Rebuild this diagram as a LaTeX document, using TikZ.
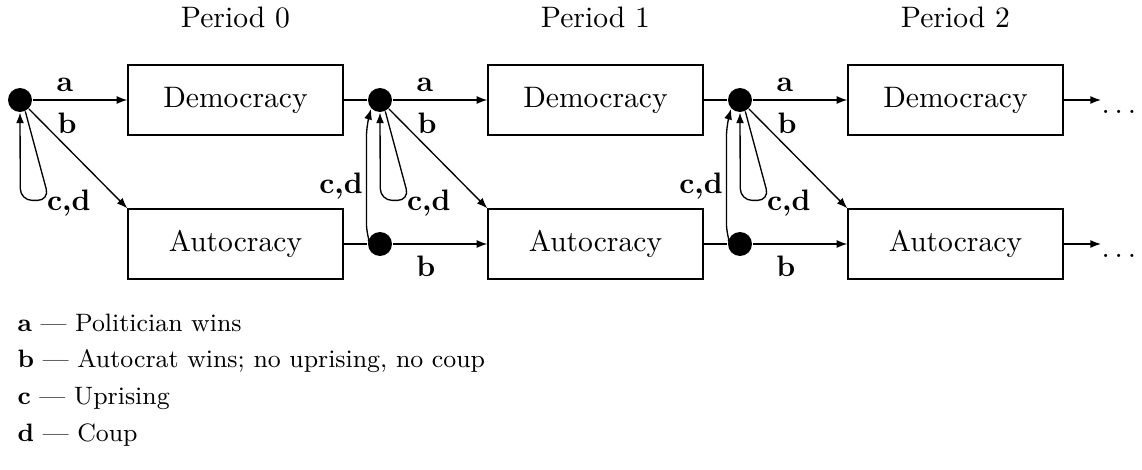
\documentclass[tikz,border=0pt]{standalone}
\usepackage{tikz}
\usetikzlibrary{arrows.meta}
\tikzset{
	state/.style={draw, line width=0.5pt, minimum width=72.6pt, minimum height=23.6pt, inner sep=0pt},
	dot/.style={circle, fill=black, inner sep=0pt, minimum size=8.1pt},
	link/.style={line width=0.45pt},
	arr/.style={line width=0.45pt, -{Latex[length=3.6pt,width=2.7pt]}},
	lbl/.style={font=\bfseries, inner sep=2.5pt},
	legend/.style={anchor=base west, inner sep=0pt, font=\fontsize{8.5}{10.2}\selectfont},
}

\begin{document}
\begin{tikzpicture}[x=0.3378pt, y=-0.3378pt]
			%%%%% START %%%%%
			\useasboundingbox (0,0) rectangle (1142,470);
			
			\node[anchor=base] (per0) at (235.5,28) {Period 0};
			\node[anchor=base] (per1) at (595.5,28) {Period 1};
			\node[anchor=base] (per2) at (955.5,28) {Period 2};
			
			\node[state] (dem0) at (235.5,100) {Democracy};
			\node[state] (aut0) at (235.5,244) {Autocracy};
			\node[state] (dem1) at (595.5,100) {Democracy};
			\node[state] (aut1) at (595.5,244) {Autocracy};
			\node[state] (dem2) at (955.5,100) {Democracy};
			\node[state] (aut2) at (955.5,244) {Autocracy};
			
			\node[dot] (d0) at (20,100) {};
			\node[dot] (td1) at (380,100) {};
			\node[dot] (bd1) at (380,244) {};
			\node[dot] (td2) at (740,100) {};
			\node[dot] (bd2) at (740,244) {};
			
			% period 0
			\draw[arr] (d0.east) -- node[lbl, pos=0.34, above] {a} (dem0.west);
			\draw[arr] (d0.-45) -- node[lbl, pos=0.27, anchor=south west, inner sep=0.5pt] {b} (aut0.north west);
			\draw[arr, rounded corners=4pt] (d0.-65) -- ++(24,89) node[lbl, anchor=west, inner sep=0pt, xshift=-1pt, yshift=-1pt] {c,d} -- ++(-29,0) -- (d0.south);
			
			% period 1
			\draw[link] (dem0.east) -- (td1.west);
			\draw[link] (aut0.east) -- (bd1.west);
			\draw[arr, rounded corners=4pt] (bd1.160) -- ++(-1.7,-4) -- node[lbl, pos=0.45, anchor=east, inner sep=1pt] {c,d} ++(0,-111) -- (td1.-135);
			\draw[arr] (td1.east) -- node[lbl, pos=0.34, above] {a} (dem1.west);
			\draw[arr] (td1.-45) -- node[lbl, pos=0.27, anchor=south west, inner sep=0.5pt] {b} (aut1.north west);
			\draw[arr, rounded corners=4pt] (td1.-65) -- ++(24,89) node[lbl, anchor=west, inner sep=0pt, xshift=-1pt, yshift=-1pt] {c,d} -- ++(-29,0) -- (td1.south);
			\draw[arr] (bd1.east) -- node[lbl, pos=0.35, below=1.2pt] {b} (aut1.west);
			
			% period 2
			\draw[link] (dem1.east) -- (td2.west);
			\draw[link] (aut1.east) -- (bd2.west);
			\draw[arr, rounded corners=4pt] (bd2.160) -- ++(-1.7,-4) -- node[lbl, pos=0.45, anchor=east, inner sep=1pt] {c,d} ++(0,-111) -- (td2.-135);
			\draw[arr] (td2.east) -- node[lbl, pos=0.34, above] {a} (dem2.west);
			\draw[arr] (td2.-45) -- node[lbl, pos=0.27, anchor=south west, inner sep=0.5pt] {b} (aut2.north west);
			\draw[arr, rounded corners=4pt] (td2.-65) -- ++(24,89) node[lbl, anchor=west, inner sep=0pt, xshift=-1pt, yshift=-1pt] {c,d} -- ++(-29,0) -- (td2.south);
			\draw[arr] (bd2.east) -- node[lbl, pos=0.35, below=1.2pt] {b} (aut2.west);
			
			% and so on
			\coordinate (end0) at (1101,100);
			\coordinate (end1) at (1101,244);
			\draw[arr] (dem2.east) -- (end0);
			\draw[arr] (aut2.east) -- (end1);
			\node[anchor=base west, inner sep=0pt] (more0) at (1101,114) {$\ldots$};
			\node[anchor=base west, inner sep=0pt] (more1) at (1101,258) {$\ldots$};
			
			% key
			\node[legend] (keya) at (17,332) {\textbf{a} --- Politician wins};
			\node[legend] (keyb) at (17,368) {\textbf{b} --- Autocrat wins; no uprising, no coup};
			\node[legend] (keyc) at (17,405) {\textbf{c} --- Uprising};
			\node[legend] (keyd) at (17,442) {\textbf{d} --- Coup};
			
			%%%%% END %%%%%
\end{tikzpicture}
\end{document}
